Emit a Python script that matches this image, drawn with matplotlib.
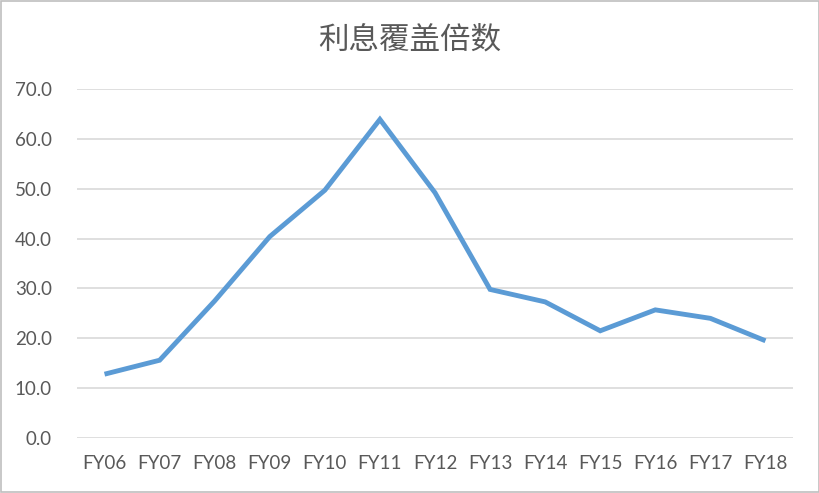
import matplotlib
matplotlib.use("Agg")
import matplotlib.pyplot as plt
from matplotlib.patches import Rectangle

# interest coverage ratio by fiscal year
years = ["FY06", "FY07", "FY08", "FY09", "FY10", "FY11", "FY12",
         "FY13", "FY14", "FY15", "FY16", "FY17", "FY18"]
coverage = [12.8, 15.6, 27.5, 40.4, 49.7, 63.9, 49.2,
            29.8, 27.3, 21.5, 25.7, 24.0, 19.5]
y_ticks = [0, 10, 20, 30, 40, 50, 60, 70]

plt.rcParams['font.family'] = ['Lato', 'Noto Sans CJK SC', 'DejaVu Sans']

fig = plt.figure(figsize=(8.2, 4.93), dpi=100)
ax = fig.add_axes([77 / 820, 1 - 438 / 493, (793 - 77) / 820, (438 - 89) / 493])

x = list(range(len(years)))
ax.plot(x, coverage, color="#5B9BD5", linewidth=3.5, solid_capstyle="butt",
        solid_joinstyle="miter")

ax.set_xlim(-0.5, len(years) - 0.5)
ax.set_ylim(0, 70)
ax.set_yticks(y_ticks)
ax.set_yticklabels([f"{v:.1f}" for v in y_ticks])
ax.set_xticks(x)
ax.set_xticklabels(years)

ax.yaxis.grid(True, color="#D9D9D9", linewidth=1.2)
ax.set_axisbelow(True)
for side in ["top", "right", "left", "bottom"]:
    ax.spines[side].set_visible(False)
ax.tick_params(axis="both", length=0, labelsize=13.5, labelcolor="#595959")
ax.tick_params(axis="y", pad=18)
ax.tick_params(axis="x", pad=12)

fig.text(410 / 820, 1 - 40 / 493, "利息覆盖倍数", ha="center", va="center",
         fontsize=22, color="#595959", family=['Noto Sans CJK SC', 'DejaVu Sans'])

# thin frame around the chart like the original export
fig.patches.append(Rectangle((0.001, 0.002), 0.998, 0.996, transform=fig.transFigure,
                             fill=False, edgecolor="#BFBFBF", linewidth=1.2))

fig.savefig("out.png", dpi=100, facecolor="white")
